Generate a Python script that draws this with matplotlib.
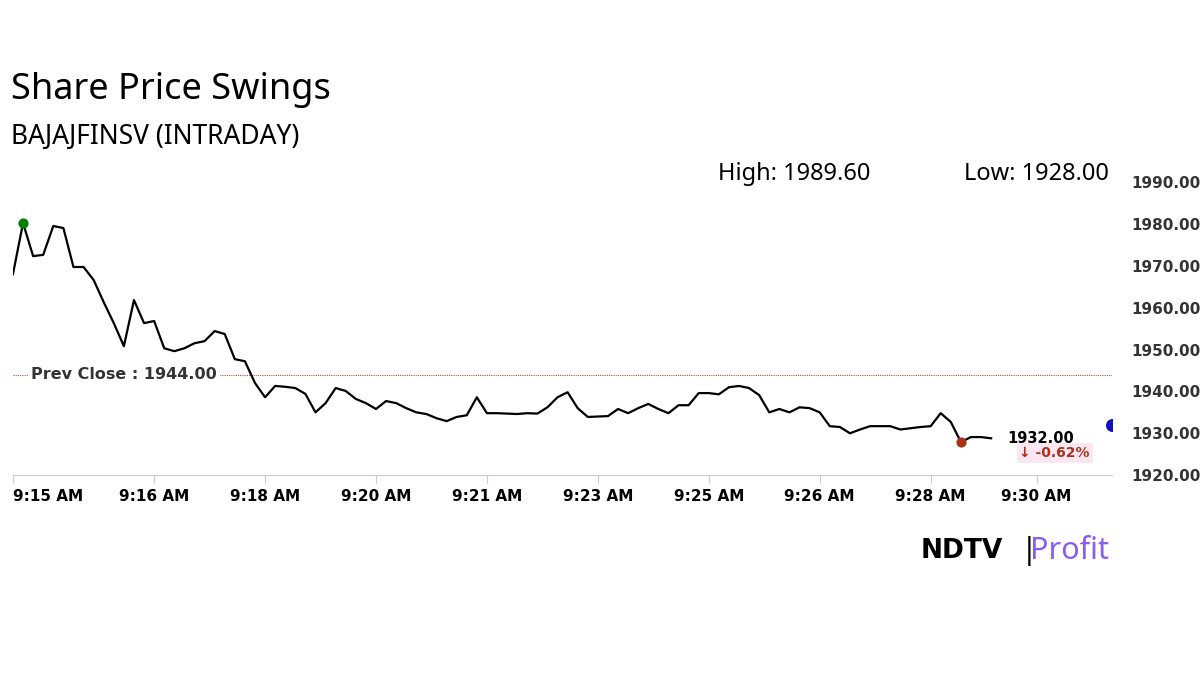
import matplotlib
matplotlib.use("Agg")
import matplotlib.pyplot as plt

prices = [1968,1980.2,1972.3,1972.6,1979.5,1979,1969.7,1969.7,1966.6,1961.3,1956.3,1950.8,
          1961.8,1956.3,1956.8,1950.3,1949.6,1950.3,1951.5,1952,1954.4,1953.7,1947.7,1947.2,
          1942,1938.6,1941.3,1941.1,1940.8,1939.4,1935,1937.2,1940.8,1940.1,1938.2,1937.2,
          1935.8,1937.7,1937.2,1936,1935,1934.6,1933.6,1932.9,1933.9,1934.3,1938.6,1934.8,
          1934.8,1934.7,1934.6,1934.8,1934.7,1936.2,1938.6,1939.8,1936,1933.9,1934.0,1934.1,
          1935.8,1934.8,1936,1937,1935.8,1934.8,1936.7,1936.7,1939.6,1939.6,1939.3,1941,
          1941.3,1940.8,1939.1,1935,1935.8,1935,1936.2,1936,1935,1931.7,1931.5,1930,1930.9,
          1931.7,1931.7,1931.7,1930.9,1931.2,1931.5,1931.7,1934.8,1932.7,1927.9,1929.1,
          1929.1,1928.8]
tick_pos = [0,14,25,36,47,58,69,80,91,101.5]
tick_labels = ["9:15 AM","9:16 AM","9:18 AM","9:20 AM","9:21 AM","9:23 AM","9:25 AM",
               "9:26 AM","9:28 AM","9:30 AM"]
yticks = [1920,1930,1940,1950,1960,1970,1980,1990]
prev_close = 1944.0
high, low, last, change = 1989.60, 1928.00, 1932.00, -0.62

fig = plt.figure(figsize=(12,6.74), dpi=100)
plt.rcParams['font.family'] = ['Noto Sans','DejaVu Sans']
ax = fig.add_axes([0.0108,0.295,0.916,0.435])
x = list(range(len(prices)))
ax.plot(x, prices, color='black', lw=1.6, zorder=3)
ax.set_xlim(0,109)
ax.set_ylim(1920,1990)
ax.axhline(prev_close, color='#b5532a', lw=0.8, ls=(0,(1,1)), zorder=1)
ax.text(1.8, prev_close, "Prev Close : 1944.00", fontsize=11.5, fontweight='bold',
        color='#333333', va='center', family='DejaVu Sans',
        bbox=dict(facecolor='white', edgecolor='none', pad=2), zorder=2)
imax = prices.index(max(prices)); imin = prices.index(min(prices))
ax.scatter([imax],[prices[imax]], s=40, color='green', zorder=4)
ax.scatter([imin],[prices[imin]], s=40, color='#a83218', zorder=4)
ax.scatter([109],[last], s=70, color='#1010c0', zorder=4, clip_on=True)
ax.text(len(prices)+0.6, prices[-1], f"{last:.2f}", fontsize=10.5, va='center',
        family='DejaVu Sans', color='black', fontweight='bold')
ax.text(len(prices)+1.8, 1925.3, f"\u2193 {change:.2f}%", fontsize=10, va='center',
        family='DejaVu Sans', color='#a83218', fontweight='bold',
        bbox=dict(facecolor='#fbe6f3', edgecolor='none', pad=2))
ax.set_xticks(tick_pos)
ax.set_xticklabels(tick_labels, fontsize=11, fontweight='bold', family='DejaVu Sans')
ax.get_xticklabels()[0].set_horizontalalignment('left')
ax.yaxis.tick_right()
ax.set_yticks(yticks)
ax.set_yticklabels([f"{v:.2f}" for v in yticks], fontsize=11, fontweight='bold',
                   family='DejaVu Sans', color='#333333')
ax.tick_params(axis='y', length=0, pad=14)
ax.tick_params(axis='x', length=6, color='#cccccc', pad=4)
for s in ['top','right','left']:
    ax.spines[s].set_visible(False)
ax.spines['bottom'].set_color('#cccccc')

fig.text(0.009, 0.866, "Share Price Swings", fontsize=26, fontweight='bold', va='center')
fig.text(0.009, 0.796, "BAJAJFINSV (INTRADAY)", fontsize=19, fontweight='bold', va='center')
fig.text(0.598, 0.742, f"High: {high:.2f}", fontsize=17, fontweight='bold', va='center')
fig.text(0.803, 0.742, f"Low: {low:.2f}", fontsize=17, fontweight='bold', va='center')
fig.text(0.767, 0.182, "NDTV", fontsize=19, fontweight='bold', va='center', family='DejaVu Sans')
fig.text(0.851, 0.182, "|", fontsize=22, va='center', color='black')
fig.text(0.858, 0.182, "Profit", fontsize=22, fontweight='bold', va='center', color='#8a5cf0')
fig.savefig("out.png", dpi=100, facecolor='white')
